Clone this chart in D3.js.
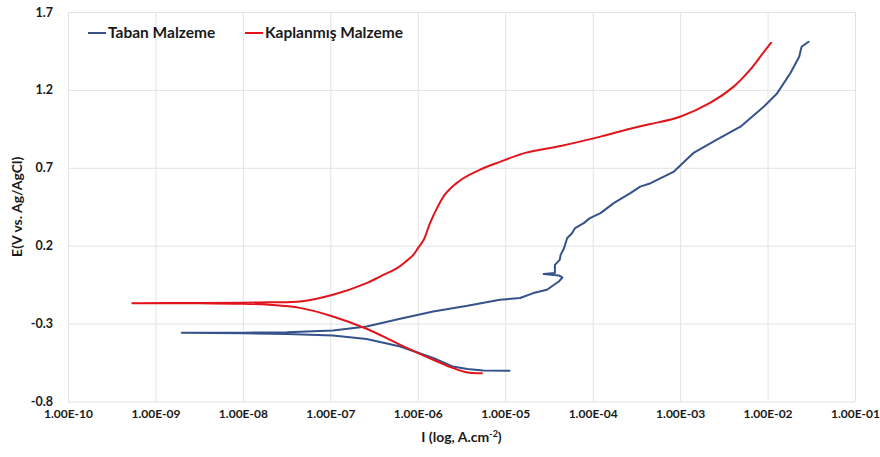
<!DOCTYPE html>
<html>
<head>
<meta charset="utf-8">
<script src="https://cdn.jsdelivr.net/npm/d3@7/dist/d3.min.js"></script>
<style>
  html, body { margin: 0; padding: 0; background: #ffffff; }
  svg { display: block; }
  text { font-family: Lato, "Open Sans", "DejaVu Sans", sans-serif; font-weight: bold; }
</style>
</head>
<body>
<svg id="chart" width="880" height="457"></svg>
<script>
// ---- data (current density in A/cm², potential in V vs Ag/AgCl) ----
const seriesNames = ["Taban Malzeme", "Kaplanmış Malzeme"];

const tabanI = [1.12e-5, 5.6e-6, 3.7e-6, 2.5e-6, 1.5e-6, 6.3e-7, 2.6e-7, 1.07e-7, 3.2e-8, 1.0e-8, 2.0e-9,
  1.0e-8, 3.2e-8, 1.07e-7, 2.6e-7, 6.3e-7, 1.5e-6, 3.7e-6, 8.7e-6, 1.48e-5, 2.1e-5, 3.0e-5, 4.1e-5, 4.5e-5,
  4.1e-5, 2.75e-5, 3.7e-5, 3.7e-5, 4.2e-5, 4.3e-5, 4.7e-5, 5.1e-5, 5.8e-5, 6.3e-5, 7.9e-5, 9.3e-5, 1.23e-4,
  1.74e-4, 2.7e-4, 3.5e-4, 4.6e-4, 8.5e-4, 1.41e-3, 2.6e-3, 4.9e-3, 9.1e-3, 1.29e-2, 1.82e-2, 2.3e-2, 2.45e-2, 2.95e-2];
const tabanE = [-0.603, -0.601, -0.592, -0.575, -0.521, -0.447, -0.399, -0.376, -0.366, -0.362, -0.359,
  -0.358, -0.355, -0.344, -0.319, -0.269, -0.222, -0.186, -0.147, -0.136, -0.104, -0.083, -0.030, -0.004,
  0.009, 0.019, 0.024, 0.077, 0.109, 0.141, 0.184, 0.248, 0.280, 0.313, 0.345, 0.377, 0.409,
  0.473, 0.537, 0.579, 0.601, 0.676, 0.794, 0.879, 0.964, 1.093, 1.179, 1.307, 1.413, 1.477, 1.509];

const kaplanmisI = [5.4e-6, 3.7e-6, 2.5e-6, 1.5e-6, 6.3e-7, 2.6e-7, 1.07e-7, 4.5e-8, 2.0e-8, 1.0e-8, 3.2e-9, 5.4e-10,
  3.2e-9, 1.0e-8, 2.0e-8, 4.5e-8, 1.07e-7, 2.6e-7, 3.7e-7, 5.8e-7, 7.2e-7, 8.9e-7, 1.01e-6, 1.17e-6, 1.38e-6, 1.66e-6, 2.1e-6,
  3.1e-6, 5.1e-6, 8.7e-6, 1.7e-5, 4.3e-5, 1.23e-4, 2.9e-4, 4.6e-4, 1.0e-3, 2.2e-3, 4.1e-3, 6.3e-3, 8.9e-3, 1.1e-2];
const kaplanmisE = [-0.618, -0.614, -0.584, -0.532, -0.436, -0.333, -0.254, -0.199, -0.179, -0.172, -0.170, -0.169,
  -0.168, -0.166, -0.163, -0.158, -0.115, -0.040, 0.002, 0.056, 0.096, 0.141, 0.186, 0.238, 0.345, 0.441, 0.537,
  0.622, 0.687, 0.738, 0.796, 0.840, 0.900, 0.956, 0.981, 1.028, 1.116, 1.221, 1.328, 1.437, 1.503];

const xTickValues = [1e-10, 1e-9, 1e-8, 1e-7, 1e-6, 1e-5, 1e-4, 1e-3, 1e-2, 1e-1];
const xTickLabels = ["1.00E-10", "1.00E-09", "1.00E-08", "1.00E-07", "1.00E-06", "1.00E-05", "1.00E-04", "1.00E-03", "1.00E-02", "1.00E-01"];
const yTickValues = [-0.8, -0.3, 0.2, 0.7, 1.2, 1.7];
const yTickLabels = ["-0.8", "-0.3", "0.2", "0.7", "1.2", "1.7"];

// ---- layout ----
const colors = ["#35528A", "#E1141C"];
const pL = 68, pR = 855, pT = 12, pB = 401.5;

const svg = d3.select("#chart");
const x = d3.scaleLog().domain([1e-10, 1e-1]).range([pL, pR]);
const y = d3.scaleLinear().domain([-0.8, 1.7]).range([pB, pT]);

// grid
const gx = svg.append("g").attr("transform", `translate(0,${pB})`)
  .call(d3.axisBottom(x).tickValues(xTickValues).tickSize(-(pB - pT)).tickFormat(""));
gx.select(".domain").remove();
gx.selectAll("line").attr("stroke", "#E3E3E3").attr("stroke-width", 1);

const gy = svg.append("g").attr("transform", `translate(${pL},0)`)
  .call(d3.axisLeft(y).tickValues(yTickValues).tickSize(-(pR - pL)).tickFormat(""));
gy.select(".domain").remove();
gy.selectAll("line").attr("stroke", "#E3E3E3").attr("stroke-width", 1);

// tick labels
const ax = svg.append("g").attr("transform", `translate(0,${pB})`)
  .call(d3.axisBottom(x).tickValues(xTickValues).tickSize(0).tickPadding(8)
    .tickFormat((d, i) => xTickLabels[i]));
ax.select(".domain").remove();
ax.selectAll("text").attr("font-size", 12).attr("fill", "#1a1a1a")
  .style("font-family", "Lato, sans-serif").style("font-weight", "bold");

const ay = svg.append("g").attr("transform", `translate(${pL},0)`)
  .call(d3.axisLeft(y).tickValues(yTickValues).tickSize(0).tickPadding(15)
    .tickFormat((d, i) => yTickLabels[i]));
ay.select(".domain").remove();
ay.selectAll("text").attr("font-size", 12.5).attr("fill", "#1a1a1a")
  .style("font-family", "Lato, sans-serif").style("font-weight", "bold");

// axis titles
const xt = svg.append("text").attr("x", (pL + pR) / 2).attr("y", 442)
  .attr("text-anchor", "middle").attr("font-size", 14).attr("fill", "#1a1a1a");
xt.append("tspan").text("I (log, A.cm");
xt.append("tspan").text("-2").attr("font-size", 9).attr("dy", -5);
xt.append("tspan").text(")").attr("dy", 5);

svg.append("text").attr("transform", `translate(22,${(pT + pB) / 2}) rotate(-90)`)
  .attr("text-anchor", "middle").attr("font-size", 14).attr("fill", "#1a1a1a")
  .text("E(V vs. Ag/AgCl)");

// curves
const line = d3.line().x(d => x(d[0])).y(d => y(d[1]));
const series = [
  { name: seriesNames[0], pts: tabanI.map((v, i) => [v, tabanE[i]]), color: colors[0], curve: d3.curveLinear },
  { name: seriesNames[1], pts: kaplanmisI.map((v, i) => [v, kaplanmisE[i]]), color: colors[1], curve: d3.curveCatmullRom.alpha(0.5) }
];
series.forEach(s => {
  svg.append("path").datum(s.pts)
    .attr("d", line.curve(s.curve))
    .attr("fill", "none").attr("stroke", s.color).attr("stroke-width", 2)
    .attr("stroke-linejoin", "round").attr("stroke-linecap", "round");
});

// legend
const legendX = [88, 245];
series.forEach((s, i) => {
  const g = svg.append("g").attr("transform", `translate(${legendX[i]},33)`);
  g.append("line").attr("x1", 0).attr("x2", 18).attr("y1", 0).attr("y2", 0)
    .attr("stroke", s.color).attr("stroke-width", 2);
  g.append("text").attr("x", 20).attr("y", 5).attr("font-size", 15.5).attr("fill", "#1a1a1a").text(s.name);
});
</script>
</body>
</html>
